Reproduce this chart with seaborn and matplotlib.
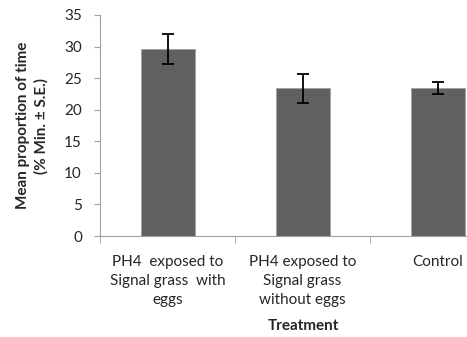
import matplotlib
matplotlib.use("Agg")
import matplotlib.pyplot as plt
import seaborn as sns
import pandas as pd
import numpy as np

categories = ["PH4  exposed to\nSignal grass  with\neggs",
              "PH4 exposed to\nSignal grass\nwithout eggs",
              "Control"]
means = [29.6, 23.4, 23.4]
se = [2.35, 2.3, 0.95]
yticks = [0, 5, 10, 15, 20, 25, 30, 35]

sns.set_style("white")
plt.rcParams['font.family'] = ['Lato', 'DejaVu Sans']

df = pd.DataFrame({"Treatment": categories, "Mean": means, "SE": se})

fig = plt.figure(figsize=(4.67, 3.37), dpi=100)
ax = fig.add_axes([100/467, 101/337, 405/467, 221/337])
sns.barplot(data=df, x="Treatment", y="Mean", color="#606060", width=0.4,
            saturation=1, ax=ax, errorbar=None, edgecolor="#a0a0a0", linewidth=0.6)
xs = [p.get_x() + p.get_width()/2 for p in ax.patches]
ax.errorbar(xs, df["Mean"], yerr=df["SE"], fmt="none", ecolor="black",
            elinewidth=1.3, capsize=4, capthick=1.3)

ax.set_xlim(-0.5, 2.5)
ax.set_ylim(0, 35)
ax.set_yticks(yticks)
ax.set_yticklabels([str(t) for t in yticks], fontsize=11)
ax.tick_params(axis="y", length=4, color="#a0a0a0", direction="out", pad=9, left=True)
ax.set_xticks([0, 1, 2])
ax.set_xticklabels(categories, fontsize=11, linespacing=1.45)
ax.tick_params(axis="x", length=0, pad=14)
ax.set_xticks([-0.5, 0.5, 1.5, 2.5], minor=True)
ax.tick_params(axis="x", which="minor", length=5, color="#a0a0a0", direction="out", bottom=True)

for s in ["top", "right"]:
    ax.spines[s].set_visible(False)
for s in ["left", "bottom"]:
    ax.spines[s].set_color("#a0a0a0")
    ax.spines[s].set_linewidth(0.8)

ax.set_xlabel("")
ax.set_ylabel("Mean proportion of time\n(% Min. ± S.E.)", fontsize=11,
              fontweight="bold", linespacing=1.3)
ax.yaxis.set_label_coords(-0.128, 0.5)
fig.text(303/467, 1 - 326/337, "Treatment", ha="center", va="center",
         fontsize=11, fontweight="bold")

fig.savefig("out.png", dpi=100)
